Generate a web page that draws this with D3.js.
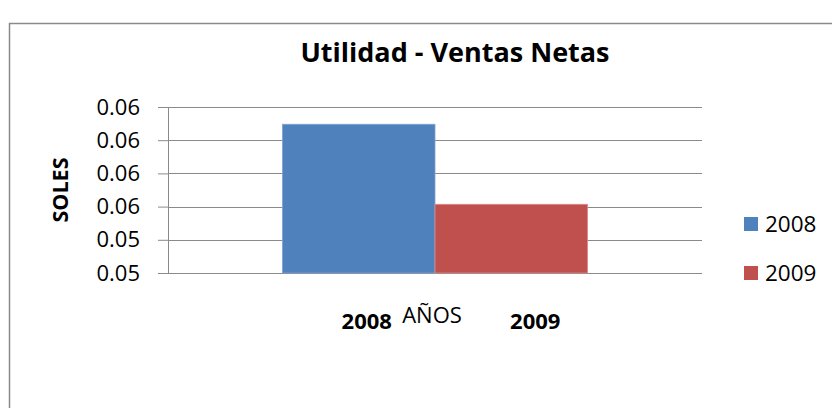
<!DOCTYPE html>
<html>
<head>
<meta charset="utf-8">
<script src="https://cdn.jsdelivr.net/npm/d3@7"></script>
<style>
  body { margin: 0; background: #fff; }
  text { font-family: "Open Sans", sans-serif; fill: #000; }
</style>
</head>
<body>
<svg id="chart" width="832" height="408"></svg>
<script>
// data
var series = ["2008", "2009"];
var values = [0.06096, 0.05614];
var colors = ["#4F81BD", "#C0504D"];
var edgeColors = ["#7FA3D3", "#D88C8A"];
var yTicks = [0.052, 0.054, 0.056, 0.058, 0.060, 0.062];
var title = "Utilidad - Ventas Netas";
var yTitle = "SOLES";
var xTitle = "AÑOS";

var svg = d3.select("#chart");

// chart frame (only left/top edges fall inside the picture)
svg.append("rect")
    .attr("x", 9.5).attr("y", 23.5)
    .attr("width", 900).attr("height", 500)
    .attr("fill", "none")
    .attr("stroke", "#8a8a8a")
    .attr("stroke-width", 1.5);

var plot = { left: 168, right: 702, top: 107, bottom: 273 };

var x = d3.scaleBand()
    .domain(series)
    .range([plot.left, plot.right])
    .paddingInner(0)
    .paddingOuter(0.75);

var y = d3.scaleLinear()
    .domain([yTicks[0], yTicks[yTicks.length - 1]])
    .range([plot.bottom, plot.top]);

// y axis
var yAxis = d3.axisLeft(y)
    .tickValues(yTicks)
    .tickFormat(d3.format(".2f"))
    .tickSize(10)
    .tickPadding(18);

var gy = svg.append("g")
    .attr("transform", "translate(" + plot.left + ",0)")
    .call(yAxis);
gy.select(".domain").attr("stroke", "#8a8a8a");
gy.selectAll(".tick line").attr("stroke", "#8a8a8a");
gy.selectAll(".tick text")
    .attr("font-size", 22)
    .attr("font-family", "Open Sans")
    .attr("fill", "#000");

// gridlines
svg.append("g").selectAll("line")
    .data(yTicks).enter()
    .append("line")
    .attr("x1", plot.left).attr("x2", plot.right)
    .attr("y1", d => Math.round(y(d)) + 0.5)
    .attr("y2", d => Math.round(y(d)) + 0.5)
    .attr("stroke", "#8a8a8a")
    .attr("stroke-width", 1.2);

// bars
svg.append("g").selectAll("rect")
    .data(series).enter()
    .append("rect")
    .attr("x", d => x(d))
    .attr("y", (d, i) => y(values[i]))
    .attr("width", x.bandwidth())
    .attr("height", (d, i) => plot.bottom - y(values[i]))
    .attr("fill", (d, i) => colors[i])
    .attr("stroke", (d, i) => edgeColors[i])
    .attr("stroke-width", 0.8);

// title
svg.append("text")
    .attr("x", 455).attr("y", 62)
    .attr("text-anchor", "middle")
    .attr("font-size", 27)
    .attr("font-weight", "bold")
    .text(title);

// y title
svg.append("text")
    .attr("transform", "translate(68," + ((plot.top + plot.bottom) / 2) + ") rotate(-90)")
    .attr("text-anchor", "middle")
    .attr("font-size", 21.5)
    .attr("font-weight", "bold")
    .text(yTitle);

// category labels under the bars
var labelNudge = [8, 24];
svg.append("g").selectAll("text")
    .data(series).enter()
    .append("text")
    .attr("x", (d, i) => x(d) + x.bandwidth() / 2 + labelNudge[i])
    .attr("y", 329)
    .attr("text-anchor", "middle")
    .attr("font-size", 22)
    .attr("font-weight", "bold")
    .text(d => d);

// x title
svg.append("text")
    .attr("x", 432).attr("y", 323)
    .attr("text-anchor", "middle")
    .attr("font-size", 22)
    .text(xTitle);

// legend
var legend = svg.append("g").selectAll("g")
    .data(series).enter()
    .append("g")
    .attr("transform", (d, i) => "translate(744," + (217 + i * 49) + ")");
legend.append("rect")
    .attr("width", 14).attr("height", 14)
    .attr("fill", (d, i) => colors[i]);
legend.append("text")
    .attr("x", 21).attr("y", 14.5)
    .attr("font-size", 22.5)
    .text(d => d);
</script>
</body>
</html>
